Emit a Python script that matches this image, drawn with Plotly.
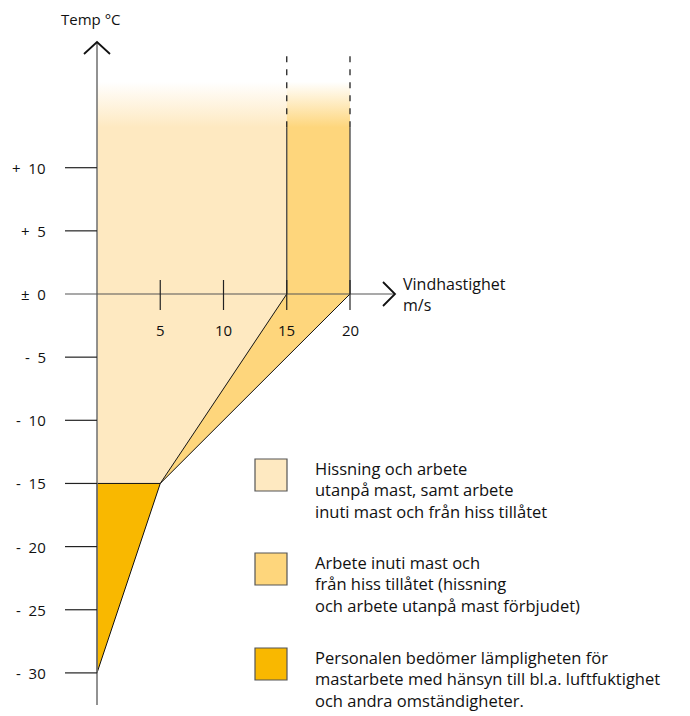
import plotly.graph_objects as go

# ---- data -------------------------------------------------------------
wind_ticks = [5, 10, 15, 20]
temp_ticks = [10, 5, 0, -5, -10, -15, -20, -25, -30]
temp_labels = ["+ 10", "+ 5", "± 0", "- 5", "- 10", "- 15", "- 20", "- 25", "- 30"]

# wind limits (m/s) at given temperatures (°C)
limit_outside_0 = 15      # outside work limit at 0 °C
limit_inside_0 = 20       # inside work limit at 0 °C
knee_wind, knee_temp = 5, -15
bottom_temp = -30

solid_top = 13.2          # solid boundary lines end here
fade_top = 16.8           # colour fades out up to here
dash_top = 19.3           # dashed continuation ends here

zone_colors = ["#FEE9C1", "#FED67C", "#F9B800"]
zone_texts = [
    ["Hissning och arbete", "utanpå mast, samt arbete", "inuti mast och från hiss tillåtet"],
    ["Arbete inuti mast och", "från hiss tillåtet (hissning", "och arbete utanpå mast förbjudet)"],
    ["Personalen bedömer lämpligheten för",
     "mastarbete med hänsyn till bl.a. luftfuktighet",
     "och andra omständigheter."],
]

# ---- canvas calibration ----------------------------------------------
W, H = 690, 716
X0_PX, X_SCALE = 97, 12.65
Y0_PX, Y_SCALE = 294, 12.63


def xd(px):
    return (px - X0_PX) / X_SCALE


def yd(py):
    return (Y0_PX - py) / Y_SCALE


FONT = "Open Sans"
fig = go.Figure()


def fade_scale(color, y_lo, y_hi):
    frac = (solid_top - y_lo) / (y_hi - y_lo)
    r, g, b = int(color[1:3], 16), int(color[3:5], 16), int(color[5:7], 16)
    return [[0, f"rgba({r},{g},{b},1)"], [frac, f"rgba({r},{g},{b},1)"],
            [1, f"rgba({r},{g},{b},0)"]]


# light zone
lx = [0, limit_outside_0, limit_outside_0, knee_wind, 0, 0]
ly = [fade_top, fade_top, 0, knee_temp, knee_temp, fade_top]
fig.add_trace(go.Scatter(
    x=lx, y=ly, mode="none", fill="toself",
    fillgradient=dict(type="vertical", start=knee_temp, stop=fade_top,
                      colorscale=fade_scale(zone_colors[0], knee_temp, fade_top)),
    hoverinfo="skip", showlegend=False))

# medium zone
mx = [limit_outside_0, limit_inside_0, limit_inside_0, knee_wind, limit_outside_0, limit_outside_0]
my = [fade_top, fade_top, 0, knee_temp, 0, fade_top]
fig.add_trace(go.Scatter(
    x=mx, y=my, mode="none", fill="toself",
    fillgradient=dict(type="vertical", start=knee_temp, stop=fade_top,
                      colorscale=fade_scale(zone_colors[1], knee_temp, fade_top)),
    hoverinfo="skip", showlegend=False))

# dark zone
fig.add_trace(go.Scatter(
    x=[0, knee_wind, 0, 0], y=[knee_temp, knee_temp, bottom_temp, knee_temp],
    mode="lines", fill="toself", fillcolor=zone_colors[2],
    line=dict(color="#111", width=1), hoverinfo="skip", showlegend=False))

# boundary lines
fig.add_trace(go.Scatter(
    x=[limit_outside_0, knee_wind, limit_inside_0], y=[0, knee_temp, 0],
    mode="lines", line=dict(color="#111", width=1), hoverinfo="skip", showlegend=False))
for xv in (limit_outside_0, limit_inside_0):
    fig.add_trace(go.Scatter(x=[xv, xv], y=[0, solid_top], mode="lines",
                             line=dict(color="#444", width=1.3),
                             hoverinfo="skip", showlegend=False))
    fig.add_trace(go.Scatter(x=[xv, xv], y=[solid_top, dash_top], mode="lines",
                             line=dict(color="#222", width=1.3, dash="6px,7px"),
                             hoverinfo="skip", showlegend=False))

# axes
axis_col = "#777"
y_axis_top = yd(42)
y_axis_bot = yd(705)
x_axis_left = xd(65)
x_axis_right = xd(395)
fig.add_trace(go.Scatter(x=[0, 0], y=[y_axis_bot, y_axis_top], mode="lines",
                         line=dict(color=axis_col, width=1.6), hoverinfo="skip", showlegend=False))
fig.add_trace(go.Scatter(x=[x_axis_left, x_axis_right], y=[0, 0], mode="lines",
                         line=dict(color="#555", width=1.2), hoverinfo="skip", showlegend=False))
# arrow heads
fig.add_trace(go.Scatter(x=[xd(84), 0, xd(110)], y=[yd(54), y_axis_top, yd(54)], mode="lines",
                         line=dict(color="#111", width=1.8), hoverinfo="skip", showlegend=False))
fig.add_trace(go.Scatter(x=[xd(383), x_axis_right, xd(383)], y=[yd(282), 0, yd(306)], mode="lines",
                         line=dict(color="#111", width=1.8), hoverinfo="skip", showlegend=False))

# y ticks and labels
for t, lab in zip(temp_ticks, temp_labels):
    if t != 0:
        fig.add_trace(go.Scatter(x=[x_axis_left, 0], y=[t, t], mode="lines",
                                 line=dict(color="#222", width=1.2),
                                 hoverinfo="skip", showlegend=False))
    sign, num = lab.split(" ")
    fig.add_annotation(x=xd(48), y=t, text=sign + "\u00a0\u00a0" + num, showarrow=False,
                       xanchor="right", yanchor="middle",
                       font=dict(family=FONT, size=15, color="#111"))

# x ticks and labels
for w in wind_ticks:
    fig.add_trace(go.Scatter(x=[w, w], y=[yd(280), yd(310)], mode="lines",
                             line=dict(color="#222", width=1.2),
                             hoverinfo="skip", showlegend=False))
    fig.add_annotation(x=w, y=yd(330), text=str(w), showarrow=False, xanchor="center",
                       yanchor="middle", font=dict(family=FONT, size=15, color="#111"))

# axis titles
fig.add_annotation(x=xd(91), y=yd(19), text="Temp °C", showarrow=False, xanchor="center",
                   yanchor="middle", font=dict(family=FONT, size=15, color="#111"))
fig.add_annotation(x=xd(401), y=yd(294), text="Vindhastighet<br>m/s", showarrow=False,
                   xanchor="left", yanchor="middle", align="left",
                   font=dict(family=FONT, size=16, color="#111"))

# legend: swatches and texts
sw_tops = [459, 553, 648]
for top, col, lines in zip(sw_tops, zone_colors, zone_texts):
    fig.add_shape(type="rect", xref="x", yref="y", x0=xd(255), x1=xd(287),
                  y0=yd(top), y1=yd(top + 32), fillcolor=col,
                  line=dict(color="#555", width=1.2))
    fig.add_annotation(x=xd(313), y=yd(top + 31), text="<br>".join(lines), showarrow=False,
                       xanchor="left", yanchor="middle", align="left",
                       font=dict(family=FONT, size=16.5, color="#111"))

fig.update_layout(
    width=W, height=H, margin=dict(l=0, r=0, t=0, b=0),
    paper_bgcolor="white", plot_bgcolor="white",
    xaxis=dict(visible=False, range=[xd(0), xd(W)], fixedrange=True),
    yaxis=dict(visible=False, range=[yd(H), yd(0)], fixedrange=True),
    showlegend=False,
)
fig.write_html("out.html")
